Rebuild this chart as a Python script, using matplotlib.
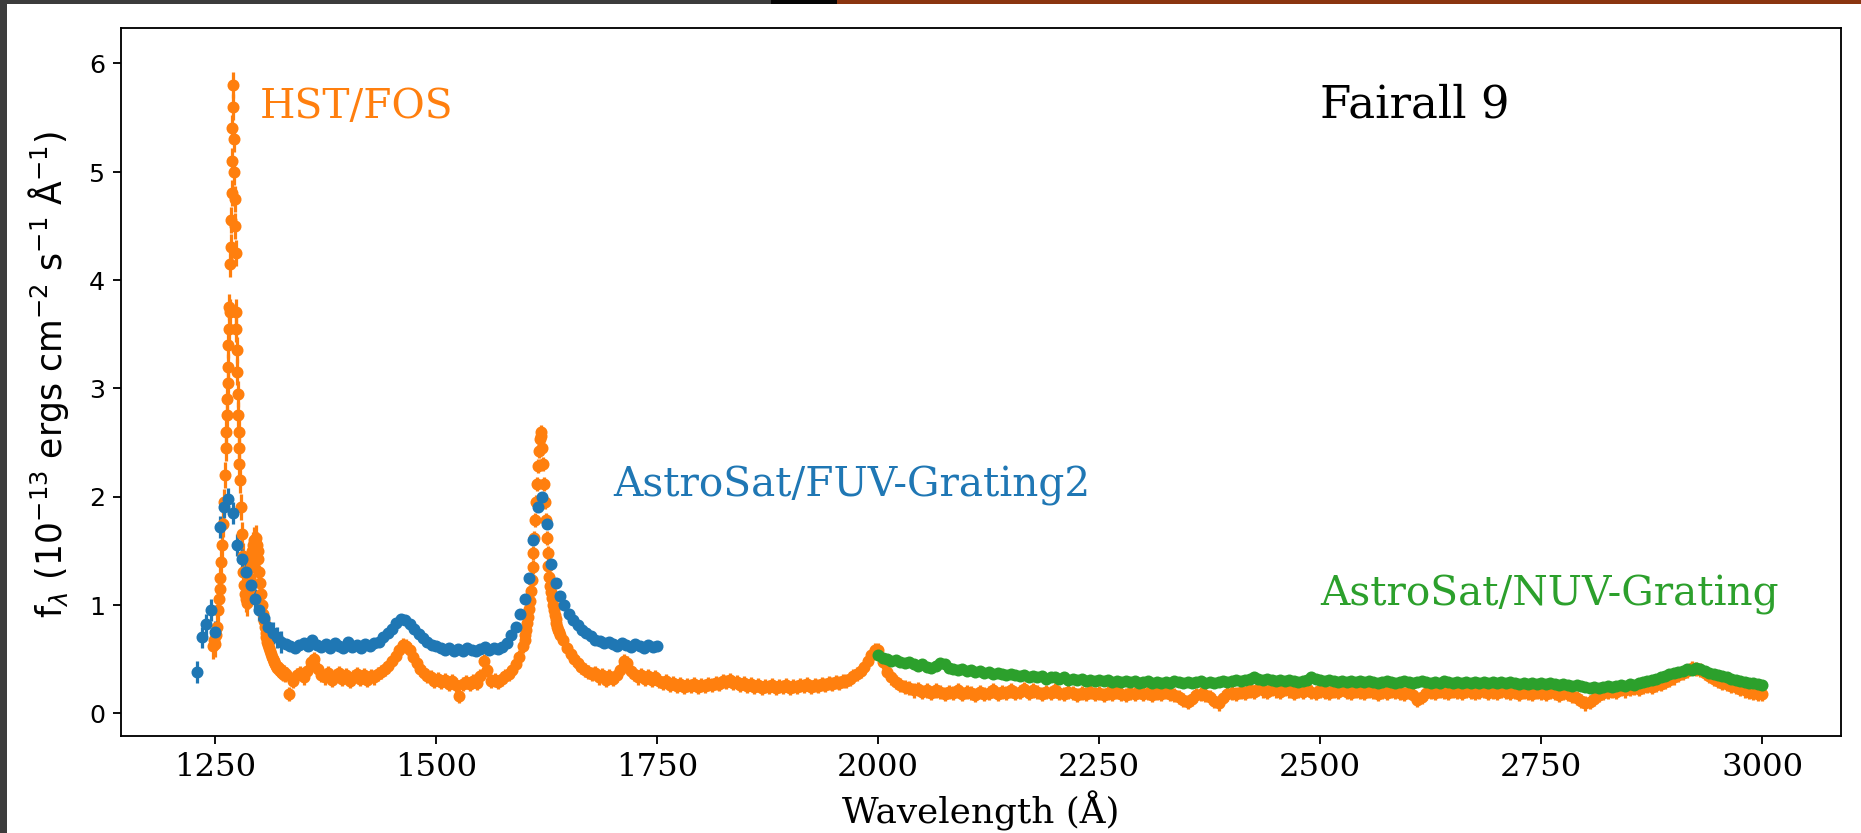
import numpy as np
import matplotlib
matplotlib.use("Agg")
import matplotlib.pyplot as plt
from matplotlib.patches import Rectangle

# ---------------- HST/FOS spectrum (flux in 1e-13 erg/cm^2/s/A) ----------------
# blue wing of Ly-alpha, 1 A sampling
fos_wave_lyb = np.arange(1248, 1262, 1)
fos_flux_lyb = [
    0.62, 0.68, 0.64, 0.72, 0.80, 0.95, 1.05, 1.15, 1.25, 1.40,
    1.55, 1.75, 1.95, 2.20,
]
# Ly-alpha core, 0.5 A sampling
fos_wave_lya = np.arange(1262, 1278.1, 0.5)
fos_flux_lya = [
    2.45, 2.60, 2.75, 2.90, 3.05, 3.20, 3.40, 3.55, 3.75, 3.70,
    4.15, 4.30, 4.55, 4.80, 5.10, 5.40, 5.80, 5.60, 5.30, 5.00,
    4.75, 4.50, 4.25, 3.70, 3.55, 3.35, 3.15, 2.95, 2.75, 2.60,
    2.45, 2.30, 2.15,
]
# red wing of Ly-alpha and N V, 1 A sampling
fos_wave_nv = np.arange(1279, 1331, 1)
fos_flux_nv = [
    1.90, 1.65, 1.45, 1.30, 1.18, 1.10, 1.05, 1.02, 1.08, 1.15,
    1.25, 1.35, 1.42, 1.50, 1.55, 1.60, 1.58, 1.62, 1.55, 1.50,
    1.42, 1.30, 1.20, 1.10, 1.00, 0.92, 0.85, 0.80, 0.74, 0.70,
    0.66, 0.63, 0.60, 0.57, 0.55, 0.52, 0.50, 0.48, 0.47, 0.45,
    0.44, 0.42, 0.43, 0.40, 0.41, 0.38, 0.39, 0.37, 0.36, 0.38,
    0.35, 0.36,
]
# Si IV region, 4 A sampling
fos_wave_siiv = np.arange(1334, 1599, 4)
fos_flux_siiv = [
    0.18, 0.30, 0.35, 0.37, 0.33, 0.39, 0.47, 0.50, 0.41, 0.35,
    0.33, 0.37, 0.31, 0.34, 0.37, 0.32, 0.35, 0.30, 0.33, 0.36,
    0.32, 0.35, 0.31, 0.34, 0.33, 0.36, 0.38, 0.41, 0.44, 0.48,
    0.53, 0.58, 0.63, 0.62, 0.58, 0.52, 0.46, 0.41, 0.37, 0.34,
    0.33, 0.30, 0.32, 0.29, 0.31, 0.27, 0.30, 0.26, 0.16, 0.27,
    0.29, 0.27, 0.30, 0.28, 0.34, 0.48, 0.40, 0.30, 0.31, 0.29,
    0.32, 0.34, 0.36, 0.40, 0.45, 0.52, 0.62,
]
# C IV line, 1 A sampling
fos_wave_civ = np.arange(1600, 1641, 1)
fos_flux_civ = [
    0.68, 0.72, 0.77, 0.83, 0.89, 0.96, 1.04, 1.13, 1.23, 1.35,
    1.48, 1.62, 1.78, 1.95, 2.12, 2.28, 2.42, 2.53, 2.60, 2.56,
    2.45, 2.30, 2.12, 1.95, 1.78, 1.62, 1.48, 1.36, 1.26, 1.17,
    1.12, 1.06, 1.00, 0.95, 0.91, 0.87, 0.83, 0.80, 0.77, 0.75,
    0.72,
]
# He II to C III], 4 A sampling
fos_wave_ciii = np.arange(1644, 1997, 4)
fos_flux_ciii = [
    0.68, 0.60, 0.55, 0.50, 0.46, 0.43, 0.40, 0.38, 0.36, 0.37,
    0.33, 0.35, 0.31, 0.34, 0.32, 0.35, 0.40, 0.48, 0.46, 0.39,
    0.36, 0.33, 0.35, 0.32, 0.34, 0.31, 0.33, 0.30, 0.28, 0.30,
    0.26, 0.28, 0.25, 0.27, 0.24, 0.26, 0.25, 0.27, 0.24, 0.26,
    0.25, 0.27, 0.26, 0.28, 0.27, 0.30, 0.29, 0.31, 0.28, 0.29,
    0.26, 0.28, 0.25, 0.27, 0.24, 0.26, 0.23, 0.25, 0.24, 0.26,
    0.23, 0.25, 0.24, 0.26, 0.23, 0.25, 0.24, 0.26, 0.25, 0.27,
    0.24, 0.26, 0.25, 0.27, 0.26, 0.28, 0.27, 0.29, 0.28, 0.30,
    0.30, 0.32, 0.34, 0.36, 0.39, 0.43, 0.48, 0.54, 0.58,
]
# near-UV part, 5 A sampling
fos_wave_nuv = np.arange(2000, 3001, 5)
fos_flux_nuv = [
    0.58, 0.47, 0.38, 0.33, 0.29, 0.26, 0.24, 0.23, 0.21, 0.22,
    0.20, 0.21, 0.19, 0.21, 0.20, 0.18, 0.20, 0.19, 0.21, 0.18,
    0.20, 0.19, 0.17, 0.20, 0.18, 0.19, 0.21, 0.18, 0.20, 0.19,
    0.21, 0.19, 0.20, 0.22, 0.19, 0.21, 0.20, 0.18, 0.20, 0.19,
    0.21, 0.19, 0.18, 0.20, 0.19, 0.17, 0.19, 0.18, 0.20, 0.18,
    0.19, 0.17, 0.19, 0.18, 0.20, 0.18, 0.17, 0.19, 0.18, 0.20,
    0.18, 0.19, 0.17, 0.19, 0.18, 0.20, 0.18, 0.17, 0.15, 0.12,
    0.10, 0.13, 0.17, 0.18, 0.17, 0.15, 0.11, 0.09, 0.14, 0.18,
    0.19, 0.18, 0.20, 0.19, 0.21, 0.20, 0.22, 0.21, 0.20, 0.22,
    0.21, 0.20, 0.22, 0.21, 0.19, 0.21, 0.20, 0.22, 0.20, 0.19,
    0.21, 0.20, 0.19, 0.21, 0.20, 0.22, 0.20, 0.19, 0.21, 0.20,
    0.19, 0.21, 0.20, 0.18, 0.20, 0.19, 0.21, 0.20, 0.19, 0.18,
    0.20, 0.17, 0.12, 0.15, 0.19, 0.20, 0.19, 0.21, 0.20, 0.19,
    0.21, 0.20, 0.19, 0.21, 0.20, 0.19, 0.20, 0.21, 0.19, 0.20,
    0.19, 0.21, 0.20, 0.19, 0.20, 0.18, 0.20, 0.19, 0.18, 0.20,
    0.19, 0.18, 0.20, 0.19, 0.17, 0.19, 0.18, 0.16, 0.14, 0.11,
    0.09, 0.10, 0.13, 0.17, 0.19, 0.20, 0.21, 0.20, 0.22, 0.21,
    0.22, 0.23, 0.22, 0.24, 0.25, 0.24, 0.26, 0.27, 0.29, 0.31,
    0.33, 0.35, 0.37, 0.39, 0.42, 0.41, 0.40, 0.37, 0.34, 0.32,
    0.30, 0.28, 0.27, 0.25, 0.24, 0.22, 0.21, 0.20, 0.19, 0.18,
    0.18,
]
fos_err_lya = 0.12   # typical 1-sigma error shortward of 1300 A
fos_err = 0.065      # typical 1-sigma error elsewhere

# ---------------- AstroSat UVIT FUV grating ----------------
fuv_wave = np.arange(1230, 1751, 5)
fuv_flux = [
    0.38, 0.70, 0.82, 0.95, 0.75,
    1.72, 1.90, 1.98, 1.85, 1.55,
    1.42, 1.30, 1.18, 1.05, 0.95,
    0.88, 0.80, 0.74, 0.70, 0.66,
    0.64, 0.62, 0.60, 0.63, 0.65,
    0.62, 0.68, 0.63, 0.61, 0.64,
    0.60, 0.65, 0.62, 0.60, 0.66,
    0.61, 0.63, 0.60, 0.64, 0.62,
    0.65, 0.66, 0.70, 0.74, 0.78,
    0.83, 0.87, 0.86, 0.82, 0.78,
    0.73, 0.69, 0.66, 0.63, 0.62,
    0.60, 0.58, 0.60, 0.57, 0.59,
    0.57, 0.60, 0.58, 0.57, 0.59,
    0.61, 0.58, 0.60, 0.59, 0.61,
    0.65, 0.72, 0.80, 0.92, 1.05,
    1.25, 1.60, 1.90, 2.00, 1.75,
    1.38, 1.20, 1.08, 1.00, 0.92,
    0.86, 0.81, 0.77, 0.74, 0.71,
    0.68, 0.67, 0.65, 0.66, 0.64,
    0.62, 0.65, 0.63, 0.61, 0.64,
    0.62, 0.60, 0.63, 0.61, 0.62,
]
fuv_err_lya = 0.10
fuv_err = 0.035

# ---------------- AstroSat UVIT NUV grating ----------------
nuv_wave = np.arange(2000, 3001, 5)
nuv_flux = [
    0.54, 0.51, 0.50, 0.48, 0.49, 0.47, 0.46, 0.47, 0.45, 0.44,
    0.45, 0.43, 0.42, 0.44, 0.46, 0.45, 0.42, 0.41, 0.40, 0.41,
    0.39, 0.40, 0.38, 0.39, 0.37, 0.38, 0.36, 0.37, 0.36, 0.35,
    0.36, 0.35, 0.34, 0.35, 0.33, 0.34, 0.33, 0.34, 0.32, 0.33,
    0.33, 0.32, 0.33, 0.31, 0.32, 0.31, 0.32, 0.30, 0.31, 0.30,
    0.31, 0.30, 0.31, 0.29, 0.30, 0.29, 0.30, 0.29, 0.30, 0.28,
    0.29, 0.30, 0.28, 0.29, 0.28, 0.29, 0.28, 0.30, 0.29, 0.28,
    0.29, 0.28, 0.29, 0.30, 0.28, 0.29, 0.28, 0.29, 0.30, 0.29,
    0.30, 0.31, 0.30, 0.31, 0.32, 0.33, 0.32, 0.31, 0.32, 0.31,
    0.30, 0.31, 0.30, 0.31, 0.30, 0.29, 0.30, 0.31, 0.33, 0.32,
    0.31, 0.30, 0.31, 0.30, 0.29, 0.30, 0.29, 0.30, 0.29, 0.30,
    0.29, 0.30, 0.29, 0.28, 0.29, 0.30, 0.29, 0.28, 0.29, 0.30,
    0.29, 0.28, 0.29, 0.30, 0.29, 0.28, 0.29, 0.28, 0.30, 0.29,
    0.28, 0.29, 0.28, 0.29, 0.28, 0.29, 0.28, 0.29, 0.28, 0.29,
    0.28, 0.29, 0.28, 0.29, 0.28, 0.27, 0.28, 0.27, 0.28, 0.27,
    0.28, 0.27, 0.28, 0.27, 0.26, 0.27, 0.26, 0.25, 0.26, 0.25,
    0.24, 0.23, 0.24, 0.23, 0.24, 0.25, 0.24, 0.25, 0.26, 0.25,
    0.27, 0.26, 0.28, 0.29, 0.30, 0.31, 0.32, 0.33, 0.34, 0.36,
    0.37, 0.38, 0.39, 0.41, 0.40, 0.42, 0.41, 0.39, 0.37, 0.36,
    0.35, 0.34, 0.33, 0.32, 0.31, 0.30, 0.29, 0.28, 0.28, 0.27,
    0.26,
]
nuv_err = 0.035

# ---------------- labels ----------------
object_name = "Fairall 9"
fos_label = "HST/FOS"
fuv_label = "AstroSat/FUV-Grating2"
nuv_label = "AstroSat/NUV-Grating"
x_ticks = [1250, 1500, 1750, 2000, 2250, 2500, 2750, 3000]
y_ticks = [0, 1, 2, 3, 4, 5, 6]

C_FOS = "#ff7f0e"
C_FUV = "#1f77b4"
C_NUV = "#2ca02c"

# ---------------- assemble arrays ----------------
fos_wave = np.concatenate([fos_wave_lyb, fos_wave_lya, fos_wave_nv,
                           fos_wave_siiv, fos_wave_civ, fos_wave_ciii,
                           fos_wave_nuv])
fos_flux = np.concatenate([fos_flux_lyb, fos_flux_lya, fos_flux_nv,
                           fos_flux_siiv, fos_flux_civ, fos_flux_ciii,
                           fos_flux_nuv])
fos_yerr = np.where(fos_wave < 1300, fos_err_lya, fos_err)
fuv_flux = np.asarray(fuv_flux)
fuv_yerr = np.where(fuv_wave < 1330, fuv_err_lya, fuv_err)
nuv_flux = np.asarray(nuv_flux)

# ---------------- figure ----------------
DPI = 166
W, H = 1861, 833
fig = plt.figure(figsize=((W + 0.4) / DPI, (H + 0.4) / DPI), dpi=DPI)
fig.patch.set_facecolor("white")

ax = fig.add_axes([121 / W, 1 - 736 / H, (1841 - 121) / W, (736 - 28) / H])

kw = dict(fmt="o", ms=4.2, elinewidth=1.4, capsize=0, linestyle="none")
ax.errorbar(fos_wave, fos_flux, yerr=fos_yerr, color=C_FOS, ecolor=C_FOS, **kw)
ax.errorbar(fuv_wave, fuv_flux, yerr=fuv_yerr, color=C_FUV, ecolor=C_FUV, **kw)
ax.errorbar(nuv_wave, nuv_flux, yerr=nuv_err, color=C_NUV, ecolor=C_NUV, **kw)

ax.set_xlim(1143.5, 3089.5)
ax.set_ylim(-0.21, 6.33)
ax.set_xticks(x_ticks)
ax.set_yticks(y_ticks)
ax.tick_params(axis="x", labelsize=14, labelfontfamily="DejaVu Serif")
ax.tick_params(axis="y", labelsize=11)

ax.set_xlabel("Wavelength (Å)", fontsize=15.5, family="DejaVu Serif", labelpad=3)
ax.set_ylabel(r"f$_\lambda$ (10$^{-13}$ ergs cm$^{-2}$ s$^{-1}$ Å$^{-1}$)",
              fontsize=15)
ax.yaxis.set_label_coords(-0.029, 0.51)

serif = dict(family="DejaVu Serif", fontsize=17.6)
ax.text(1300, 5.5, fos_label, color=C_FOS, **serif)
ax.text(2500, 5.5, object_name, color="black", family="DejaVu Serif", fontsize=19.5)
ax.text(1700, 2.0, fuv_label, color=C_FUV, **serif)
ax.text(2500, 1.0, nuv_label, color=C_NUV, **serif)

# window frame around the figure
fig.patches.append(Rectangle((0, 0), 7 / W, 1, transform=fig.transFigure,
                             facecolor="#3c3c3c", edgecolor="none", zorder=10))
fig.patches.append(Rectangle((0, 1 - 4 / H), 771 / W, 4 / H, transform=fig.transFigure,
                             facecolor="#3c3c3c", edgecolor="none", zorder=10))
fig.patches.append(Rectangle((771 / W, 1 - 4 / H), 66 / W, 4 / H, transform=fig.transFigure,
                             facecolor="#050505", edgecolor="none", zorder=10))
fig.patches.append(Rectangle((837 / W, 1 - 4 / H), 1 - 837 / W, 4 / H, transform=fig.transFigure,
                             facecolor="#8a3510", edgecolor="none", zorder=10))

fig.savefig("out.png", dpi=DPI, facecolor=fig.get_facecolor())
